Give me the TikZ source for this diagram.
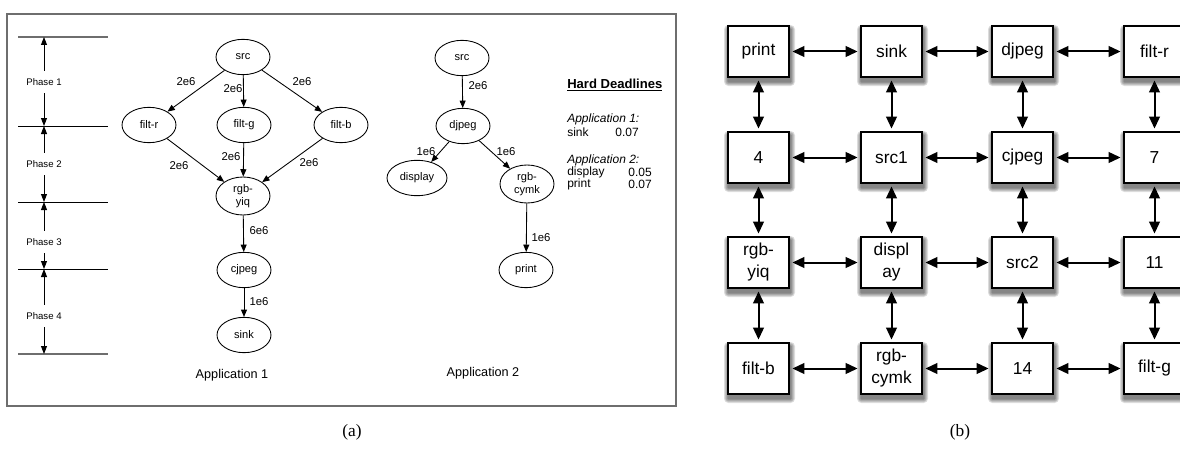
\documentclass[tikz,border=0pt]{standalone}
\usepackage{fontspec}
\setmainfont{Liberation Sans}
\newfontfamily\capfont{Liberation Serif}
\usetikzlibrary{arrows.meta,shapes.geometric,backgrounds}
\definecolor{framegrey}{RGB}{110,110,110}
\begin{document}
\begin{tikzpicture}[x=0.75pt,y=-0.75pt,
  task/.style={ellipse,draw,line width=0.65pt,minimum width=40.5pt,minimum height=26.5pt,inner sep=0pt,font=\fontsize{8.3}{9.3}\selectfont,align=center},
  tasktall/.style={task,minimum height=28.5pt},
  flow/.style={line width=0.65pt,-{Triangle[length=5.5pt,width=4.5pt]}},
  elab/.style={font=\fontsize{8.5}{10}\selectfont,inner sep=0pt},
  applab/.style={font=\fontsize{9.5}{11}\selectfont,inner sep=0pt},
  dl/.style={font=\fontsize{9}{10}\selectfont,inner sep=0pt},
  phlab/.style={font=\fontsize{7.2}{8}\selectfont,inner xsep=0pt,inner ysep=5.6pt},
  phline/.style={line width=0.6pt},
  phlineg/.style={line width=1.2pt,color=framegrey},
  pharrow/.style={line width=0.7pt,-{Triangle[length=6pt,width=4.5pt]}},
  bx/.style={draw,fill=white,line width=1.1pt,minimum width=45.75pt,minimum height=38.25pt,inner sep=0pt,font=\fontsize{13}{16.5}\selectfont,align=center},
  biarrow/.style={line width=1.5pt,{Triangle[length=9pt,width=8pt]}-{Triangle[length=9pt,width=8pt]},shorten <=2pt,shorten >=2pt},
  captxt/.style={font=\capfont\fontsize{13}{15}\selectfont,inner sep=0pt}
]
\useasboundingbox (0,0) rectangle (1180,460);

% ---------- panel (a) frame ----------
\draw[framegrey,line width=1.3pt] (7,14) rectangle (676,406);

% ---------- phases ----------
\coordinate (l1a) at (18,37);  \coordinate (l1b) at (108,37);
\coordinate (l2a) at (18,126); \coordinate (l2b) at (108,126);
\coordinate (l3a) at (18,202); \coordinate (l3b) at (108,202);
\coordinate (l4a) at (18,269); \coordinate (l4b) at (108,269);
\coordinate (l5a) at (18,354); \coordinate (l5b) at (108,354);
\draw[phlineg] (l1a) -- (l1b);
\draw[phline] (l2a) -- (l2b);
\draw[phline] (l3a) -- (l3b);
\draw[phline] (l4a) -- (l4b);
\draw[phlineg] (l5a) -- (l5b);
\coordinate (t1) at (44,37);
\coordinate (t2) at (44,126);
\coordinate (t3) at (44,202);
\coordinate (t4) at (44,269);
\coordinate (t5) at (44,354);
\node[phlab] (ph1) at (44,82) {Phase 1};
\node[phlab] (ph2) at (44,164) {Phase 2};
\node[phlab] (ph3) at (44,242) {Phase 3};
\node[phlab] (ph4) at (44,316) {Phase 4};
\draw[pharrow] (ph1.north) -- (t1);
\draw[pharrow] (ph1.south) -- (t2);
\draw[pharrow] (ph2.north) -- (t2);
\draw[pharrow] (ph2.south) -- (t3);
\draw[pharrow] (ph3.north) -- (t3);
\draw[pharrow] (ph3.south) -- (t4);
\draw[pharrow] (ph4.north) -- (t4);
\draw[pharrow] (ph4.south) -- (t5);

% ---------- application 1 ----------
\node[task] (asrc) at (243,57) {src};
\node[task] (afr) at (149,125) {filt-r};
\node[task] (afg) at (244,125) {filt-g};
\node[task] (afb) at (341,125) {filt-b};
\node[tasktall] (ayiq) at (243,196) {rgb-\\yiq};
\node[task] (acj) at (244,270) {cjpeg};
\node[task] (asink) at (244,335) {sink};
\draw[flow] (asrc) -- (afr);
\draw[flow] (asrc) -- (afg);
\draw[flow] (asrc) -- (afb);
\draw[flow] (afr) -- (ayiq);
\draw[flow] (afg) -- (ayiq);
\draw[flow] (afb) -- (ayiq);
\draw[flow] (ayiq) -- (acj);
\draw[flow] (acj) -- (asink);
\node[elab] (e1) at (186,82) {2e6};
\node[elab] (e2) at (233,89) {2e6};
\node[elab] (e3) at (302,82) {2e6};
\node[elab] (e4) at (179,166) {2e6};
\node[elab] (e5) at (231,157) {2e6};
\node[elab] (e6) at (309,163) {2e6};
\node[elab] (e7) at (259,231) {6e6};
\node[elab] (e8) at (259,302) {1e6};
\node[applab] (app1) at (232,375) {Application 1};

% ---------- application 2 ----------
\node[task] (bsrc) at (462,58) {src};
\node[task] (bdj) at (463,126) {djpeg};
\node[task,minimum width=45pt] (bdisp) at (417,178) {display};
\node[tasktall] (bcymk) at (527,184) {rgb-\\cymk};
\node[task] (bprint) at (526,270) {print};
\draw[flow] (bsrc) -- (bdj);
\draw[flow] (bdj) -- (bdisp);
\draw[flow] (bdj) -- (bcymk);
\draw[flow] (bcymk) -- (bprint);
\node[elab] (f1) at (478,86) {2e6};
\node[elab] (f2) at (426,152) {1e6};
\node[elab] (f3) at (506,152) {1e6};
\node[elab] (f4) at (541,238) {1e6};
\node[applab] (app2) at (483,373) {Application 2};

% ---------- hard deadlines ----------
\node[dl,anchor=west,font=\bfseries\fontsize{9.8}{11}\selectfont] (hd) at (567,85) {\underline{Hard Deadlines}};
\node[dl,anchor=west,font=\itshape\fontsize{9}{10}\selectfont] (d1) at (567,119) {Application 1:};
\node[dl,anchor=west] (d2) at (567,132) {sink};
\node[dl,anchor=east] (d3) at (639,132) {0.07};
\node[dl,anchor=west,font=\itshape\fontsize{9}{10}\selectfont] (d4) at (567,160) {Application 2:};
\node[dl,anchor=west] (d5) at (567,172) {display};
\node[dl,anchor=east] (d6) at (652,172) {0.05};
\node[dl,anchor=west] (d7) at (567,184) {print};
\node[dl,anchor=east] (d8) at (652,184) {0.07};

% ---------- panel (b) ----------
\node[bx] (g11) at (758.5,51.5) {print};
\node[bx] (g12) at (891.5,51.5) {sink};
\node[bx] (g13) at (1022.5,51.5) {djpeg};
\node[bx] (g14) at (1154.5,51.5) {filt-r};
\node[bx] (g21) at (758.5,157.5) {4};
\node[bx] (g22) at (891.5,157.5) {src1};
\node[bx] (g23) at (1022.5,157.5) {cjpeg};
\node[bx] (g24) at (1154.5,157.5) {7};
\node[bx] (g31) at (758.5,262.5) {rgb-\\yiq};
\node[bx] (g32) at (891.5,262.5) {displ\\ay};
\node[bx] (g33) at (1022.5,262.5) {src2};
\node[bx] (g34) at (1154.5,262.5) {11};
\node[bx] (g41) at (758.5,368.5) {filt-b};
\node[bx] (g42) at (891.5,368.5) {rgb-\\cymk};
\node[bx] (g43) at (1022.5,368.5) {14};
\node[bx] (g44) at (1154.5,368.5) {filt-g};

\begin{scope}[on background layer]
\foreach \n in {g11,g12,g13,g14,g21,g22,g23,g24,g31,g32,g33,g34,g41,g42,g43,g44}{
  \foreach \r in {0.4pt,1.1pt,1.8pt,2.5pt,3.2pt}{
    \fill[black,opacity=0.12,rounded corners=\r]
      ([xshift={0.75pt-\r},yshift={-3pt+\r}]\n.north west) rectangle
      ([xshift={0.75pt+\r},yshift={-3pt-\r}]\n.south east);
  }
}
\end{scope}

\foreach \r in {1,2,3,4}{
  \draw[biarrow] (g\r1) -- (g\r2);
  \draw[biarrow] (g\r2) -- (g\r3);
  \draw[biarrow] (g\r3) -- (g\r4);
}
\foreach \c in {1,2,3,4}{
  \draw[biarrow] (g1\c) -- (g2\c);
  \draw[biarrow] (g2\c) -- (g3\c);
  \draw[biarrow] (g3\c) -- (g4\c);
}

% ---------- captions ----------
\node[captxt] (capa) at (352,432) {(a)};
\node[captxt] (capb) at (960,432) {(b)};
\end{tikzpicture}
\end{document}
